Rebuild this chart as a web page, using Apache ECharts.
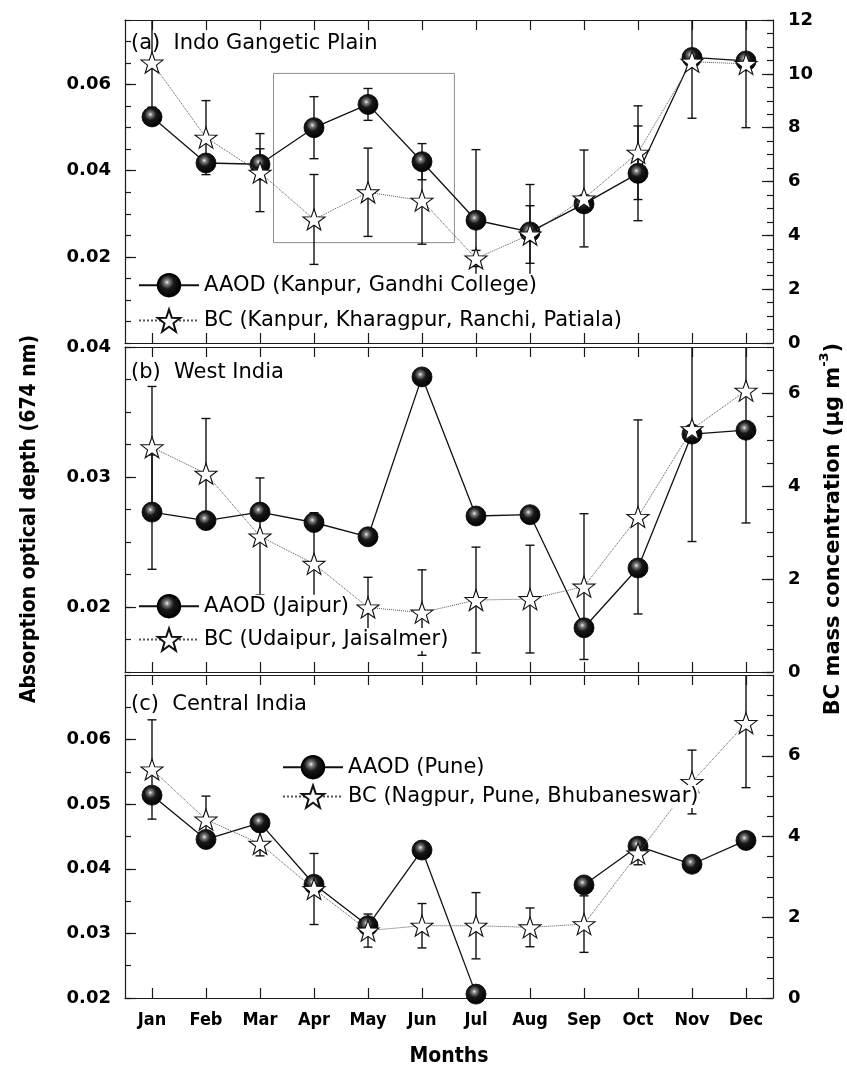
<!DOCTYPE html>
<html><head><meta charset="utf-8">
<script src="https://cdn.jsdelivr.net/npm/echarts@6/dist/echarts.min.js"></script>
<style>html,body{margin:0;padding:0;background:#fff}#c{width:847px;height:1073px}</style>
</head><body><div id="c"></div>
<script>
// ---------- data ----------
const months = ['Jan','Feb','Mar','Apr','May','Jun','Jul','Aug','Sep','Oct','Nov','Dec'];

// (a) Indo Gangetic Plain
const aAod    = [0.0525,0.0418,0.0415,0.0500,0.0554,0.0421,0.0285,0.0258,0.0323,0.0394,0.0663,0.0655];
const aAodErr = [0.0019,0.0015,0.0036,0.0072,0.0037,0.0042,0.0164,0.0110,0.0015,0.0110,0.0010,0.0010];
const aBc     = [10.42,7.63,6.33,4.59,5.60,5.29,3.14,4.03,5.37,7.07,10.45,10.37];
const aBcErr  = [1.66,1.375,1.45,1.67,1.64,1.62,0.30,1.07,1.80,1.74,2.10,2.37];
const aBoxMonths = [2.25, 5.6];      // highlighted box extent (month index)
const aBoxAod    = [0.0233, 0.0626]; // highlighted box extent (AOD)

// (b) West India
const bAod    = [0.0273,0.02665,0.0273,0.0265,0.0254,0.0377,0.0270,0.0271,0.0184,0.0230,0.0333,0.0336];
const bAodErr = [0.0044,0,0,0,0,0,0,0,0,0,0,0];
const bBc     = [4.84,4.27,2.92,2.33,1.39,1.28,1.55,1.57,1.84,3.34,5.23,6.06];
const bBcErr  = [1.31,1.19,1.26,1.10,0.65,0.92,1.14,1.16,1.57,2.09,2.42,2.85];

// (c) Central India
const cAod    = [0.0514,0.04455,0.0471,0.0376,0.0312,0.0429,0.0206,null,0.0375,0.0435,0.0407,0.0444];
const cAodErr = [0,0,0,0,0,0,0,0,0,0,0,0];
const cBc     = [5.66,4.42,3.82,2.70,1.67,1.79,1.79,1.75,1.83,3.58,5.35,6.81];
const cBcErr  = [1.23,0.58,0.30,0.88,0.41,0.55,0.82,0.48,0.70,0.28,0.79,1.60];

// axis ranges & tick labels
const leftRange  = [[0,0.075],[0.015,0.04],[0.02,0.07]];
const leftMinor  = [0.005,0.0025,0.005];
const leftTicks  = [[0.02,0.04,0.06],[0.02,0.03,0.04],[0.02,0.03,0.04,0.05,0.06]];
const rightRange = [[0,12],[0,7],[0,8]];
const rightMinor = [0.5,0.5,0.5];
const rightTicks = [[0,2,4,6,8,10,12],[0,2,4,6],[0,2,4,6]];

const panelTitles = ['(a)  Indo Gangetic Plain','(b)  West India','(c)  Central India'];
const aodNames = ['AAOD (Kanpur, Gandhi College)','AAOD (Jaipur)','AAOD (Pune)'];
const bcNames  = ['BC (Kanpur, Kharagpur, Ranchi, Patiala)','BC (Udaipur, Jaisalmer)','BC (Nagpur, Pune, Bhubaneswar)'];

// ---------- layout / style ----------
const grids = [
  {left:125, width:648, top:20,  height:323},
  {left:125, width:648, top:347, height:325},
  {left:125, width:648, top:675, height:323}
];
const legendPos = [
  {left:138, top:273, itemGap:11},
  {left:138, top:594, itemGap:9},
  {left:282, top:755, itemGap:5}
];
const titleTop = [33, 362, 694];

const AX = '#1a1a1a';
const tickFont = {fontFamily:'DejaVu Sans', fontWeight:'bold', fontSize:18, color:'#000'};
const condFont = '"DejaVu Sans Condensed","Liberation Sans Narrow","Roboto Condensed",Roboto,sans-serif';

const sphere = {
  type:'radial', x:0.42, y:0.38, r:0.62,
  colorStops:[
    {offset:0, color:'#f0f0f0'},
    {offset:0.16, color:'#808080'},
    {offset:0.45, color:'#181818'},
    {offset:1, color:'#000'}
  ]
};
const starPath = 'path://M0,-10 L2.35,-3.24 L9.51,-3.09 L3.8,1.24 L5.88,8.09 L0,4 L-5.88,8.09 L-3.8,1.24 L-9.51,-3.09 L-2.35,-3.24 Z';

function errRender(params, api){
  const e = api.value(2);
  if (!(e > 0)) return;
  const i = api.value(0), v = api.value(1);
  const cs = params.coordSys;
  const top = api.coord([i, v + e]);
  const bot = api.coord([i, v - e]);
  const x = top[0];
  const y0 = Math.max(top[1], cs.y), y1 = Math.min(bot[1], cs.y + cs.height);
  const st = {stroke:'#111', lineWidth:1.4};
  const ch = [{type:'line', shape:{x1:x,y1:y0,x2:x,y2:y1}, style:st}];
  const cw = 4.5;
  if (top[1] >= cs.y) ch.push({type:'line', shape:{x1:x-cw,y1:top[1],x2:x+cw,y2:top[1]}, style:st});
  if (bot[1] <= cs.y + cs.height) ch.push({type:'line', shape:{x1:x-cw,y1:bot[1],x2:x+cw,y2:bot[1]}, style:st});
  return {type:'group', children:ch};
}

const panels = [
  {aod:aAod, aodErr:aAodErr, bc:aBc, bcErr:aBcErr},
  {aod:bAod, aodErr:bAodErr, bc:bBc, bcErr:bBcErr},
  {aod:cAod, aodErr:cAodErr, bc:cBc, bcErr:cBcErr}
];

const xAxis = [], yAxis = [], series = [], legend = [], title = [];
panels.forEach((p, g) => {
  const catBase = {
    gridIndex:g, type:'category', data:months, boundaryGap:true,
    axisLine:{show:true, onZero:false, lineStyle:{color:AX, width:1.2}},
    axisTick:{show:true, inside:true, alignWithLabel:true, interval:0, length:10, lineStyle:{color:AX, width:1.2}},
    splitLine:{show:false}
  };
  xAxis.push(Object.assign({}, catBase, {position:'bottom',
    axisLabel:{show:g===2, interval:0, margin:13, fontFamily:condFont, fontWeight:'bold', fontSize:18, color:'#000'}}));
  xAxis.push(Object.assign({}, catBase, {position:'top', axisLabel:{show:false}}));
  xAxis.push({gridIndex:g, type:'value', min:-0.5, max:11.5, show:false, axisLine:{onZero:false}});

  const [lmin,lmax] = leftRange[g], [rmin,rmax] = rightRange[g];
  yAxis.push({gridIndex:g, type:'value', position:'left', min:lmin, max:lmax, interval:leftMinor[g],
    axisLine:{show:true, onZero:false, lineStyle:{color:AX, width:1.2}},
    axisTick:{show:true, inside:true, length:6, lineStyle:{color:AX, width:1.2}},
    axisLabel:{show:false}, splitLine:{show:false}});
  yAxis.push({gridIndex:g, type:'value', position:'left', min:lmin, max:lmax, interval:leftMinor[g],
    axisLine:{show:false, onZero:false},
    axisTick:{show:true, inside:true, length:11, customValues:leftTicks[g], lineStyle:{color:AX, width:1.2}},
    axisLabel:{show:true, customValues:leftTicks[g], margin:14, formatter:v=>Number(v).toFixed(2), ...tickFont},
    splitLine:{show:false}});
  yAxis.push({gridIndex:g, type:'value', position:'right', min:rmin, max:rmax, interval:rightMinor[g],
    axisLine:{show:true, onZero:false, lineStyle:{color:AX, width:1.2}},
    axisTick:{show:true, inside:true, length:6, lineStyle:{color:AX, width:1.2}},
    axisLabel:{show:false}, splitLine:{show:false}});
  yAxis.push({gridIndex:g, type:'value', position:'right', min:rmin, max:rmax, interval:rightMinor[g],
    axisLine:{show:false, onZero:false},
    axisTick:{show:true, inside:true, length:11, customValues:rightTicks[g], lineStyle:{color:AX, width:1.2}},
    axisLabel:{show:true, customValues:rightTicks[g], margin:15, formatter:v=>String(Math.round(v)), ...tickFont},
    splitLine:{show:false}});

  const xi = 3*g, yl = 4*g, yr = 4*g+2;
  series.push({type:'custom', name:'aodErr'+g, xAxisIndex:xi, yAxisIndex:yl, z:2, silent:true,
    renderItem:errRender, encode:{x:0,y:1},
    data:p.aod.map((v,i)=>[i, v==null?NaN:v, p.aodErr[i]])});
  series.push({type:'custom', name:'bcErr'+g, xAxisIndex:xi, yAxisIndex:yr, z:2, silent:true,
    renderItem:errRender, encode:{x:0,y:1},
    data:p.bc.map((v,i)=>[i, v, p.bcErr[i]])});
  series.push({type:'line', name:aodNames[g], xAxisIndex:xi, yAxisIndex:yl, z:3,
    data:p.aod, connectNulls:false, symbol:'circle', symbolSize:20,
    itemStyle:{color:sphere, borderColor:'#000', borderWidth:0.8},
    lineStyle:{color:'#111', width:1.3}, animation:false});
  series.push({type:'line', name:bcNames[g], xAxisIndex:xi, yAxisIndex:yr, z:4,
    data:p.bc, symbol:starPath, symbolSize:[22,21],
    itemStyle:{color:'#fff', borderColor:'#111', borderWidth:1.1},
    lineStyle:{color:'#555', width:1, type:'dotted'}, animation:false});

  legend.push({
    data:[aodNames[g], bcNames[g]], orient:'vertical', left:legendPos[g].left, top:legendPos[g].top,
    itemGap:legendPos[g].itemGap, itemWidth:60, itemHeight:28, padding:0, z:10, selectedMode:false,
    textStyle:{fontFamily:'DejaVu Sans', fontSize:21, color:'#000', backgroundColor:'#fff', padding:[1,0]}
  });
  title.push({text:panelTitles[g], left:131, top:titleTop[g], padding:0,
    textStyle:{fontFamily:'DejaVu Sans', fontWeight:'normal', fontSize:21, color:'#000'}});
});

// highlighted box in panel (a)
series.push({type:'custom', name:'box', xAxisIndex:2, yAxisIndex:0, z:1, silent:true,
  encode:{x:[0,2], y:[1,3]},
  data:[[aBoxMonths[0], aBoxAod[0], aBoxMonths[1], aBoxAod[1]]],
  renderItem:function(params, api){
    const p0 = api.coord([api.value(0), api.value(1)]);
    const p1 = api.coord([api.value(2), api.value(3)]);
    return {type:'rect', shape:{x:p0[0], y:p1[1], width:p1[0]-p0[0], height:p0[1]-p1[1]},
      style:{fill:null, stroke:'#8c8c8c', lineWidth:1}};
  }});

const option = {
  animation:false,
  backgroundColor:'#fff',
  title, legend, grid:grids, xAxis, yAxis, series,
  graphic:[
    {type:'text', x:30, y:519, rotation:Math.PI/2,
      style:{text:'Absorption optical depth (674 nm)', align:'center', verticalAlign:'middle',
        fontFamily:condFont, fontWeight:'bold', fontSize:21, fill:'#000'}},
    {type:'text', x:831, y:529, rotation:Math.PI/2,
      style:{text:'{n|BC mass concentration (μg m}{s|-3}{n|)}', align:'center', verticalAlign:'middle',
        rich:{n:{fontFamily:'DejaVu Sans', fontWeight:'bold', fontSize:21, fill:'#000', color:'#000', lineHeight:26, verticalAlign:'bottom'},
              s:{fontFamily:'DejaVu Sans', fontWeight:'bold', fontSize:13, fill:'#000', color:'#000', lineHeight:26, verticalAlign:'top'}}}},
    {type:'text', x:449, y:1057,
      style:{text:'Months', align:'center', verticalAlign:'middle',
        fontFamily:condFont, fontWeight:'bold', fontSize:21, fill:'#000'}}
  ]
};
const chart = echarts.init(document.getElementById('c'));
chart.setOption(option);
</script></body></html>
